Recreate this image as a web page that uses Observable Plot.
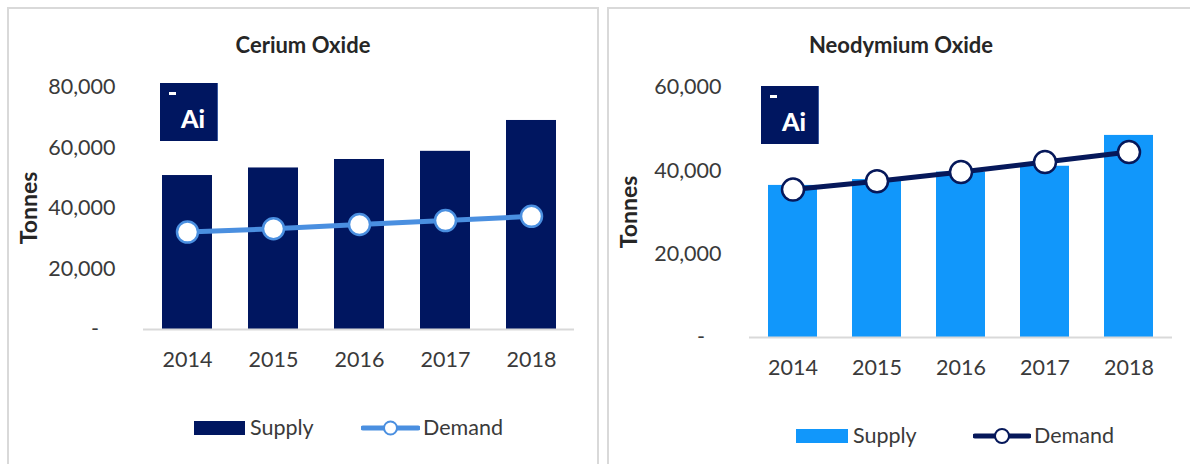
<!DOCTYPE html>
<html>
<head>
<meta charset="utf-8">
<script src="https://cdn.jsdelivr.net/npm/d3@7"></script>
<script src="https://cdn.jsdelivr.net/npm/@observablehq/plot@0.6"></script>
<style>
  html, body { margin: 0; padding: 0; background: #fff; }
  body { width: 1190px; height: 464px; overflow: hidden; position: relative; font-family: Lato, "Noto Sans", sans-serif; color: #3a3a3a; }
  .frame { position: absolute; border: 2px solid #d9d9d9; box-sizing: border-box; }
  .abs { position: absolute; }
  .title { position: absolute; font-weight: bold; font-size: 22px; color: #262626; transform: translate(-50%, -50%); white-space: nowrap; }
  .ylab { position: absolute; font-weight: bold; font-size: 23px; color: #262626; transform: translate(-50%, -50%) rotate(-90deg); white-space: nowrap; }
  .logo { position: absolute; width: 58px; height: 58px; background: #001660; border-right: 1px solid #3a5aa0; box-sizing: border-box; }
  .logo .dash { position: absolute; left: 9px; top: 9px; width: 7px; height: 3px; background: #fff; }
  .logo .ai { position: absolute; left: 21px; top: 23px; font-weight: 900; font-size: 25px; color: #fff; line-height: 1; }
  .leg { position: absolute; font-size: 21.5px; color: #3a3a3a; white-space: nowrap; line-height: 1; transform: translateY(-50%); }
  svg.plot { position: absolute; top: 0; }
</style>
</head>
<body>
<div class="frame" style="left:7px; top:7px; width:592px; height:470px;"></div>
<div class="frame" style="left:607px; top:7px; width:600px; height:470px;"></div>
<div id="root"></div>
<script>
const years = ["2014", "2015", "2016", "2017", "2018"];
const ceriumSupply = [50900, 53400, 56200, 58900, 69100];
const ceriumDemand = [32200, 33300, 34700, 36000, 37400];
const neoSupply = [36500, 37900, 39700, 41100, 48500];
const neoDemand = [35500, 37500, 39700, 42100, 44500];
const seriesNames = ["Supply", "Demand"];
const titles = ["Cerium Oxide", "Neodymium Oxide"];
const yAxisLabel = "Tonnes";

function fmt(d) { return d === 0 ? "-\u00a0\u00a0\u00a0" : d3.format(",")(d); }

function chart(opts) {
  const rows = years.map((y, i) => ({year: y, supply: opts.supply[i], demand: opts.demand[i]}));
  const svg = Plot.plot({
    width: opts.width,
    height: 464,
    marginLeft: opts.marginLeft,
    marginRight: opts.marginRight,
    marginTop: opts.marginTop,
    marginBottom: opts.marginBottom,
    style: {fontFamily: "Lato, 'Noto Sans', sans-serif", fontSize: "21.5px", color: "#3a3a3a", background: "transparent", overflow: "visible"},
    x: {domain: years, paddingInner: 0.42, paddingOuter: 0.21, label: null, tickSize: 0, tickPadding: 22},
    y: {domain: [0, opts.yMax], ticks: d3.range(0, opts.yMax + 1, 20000), tickFormat: fmt, label: null, tickSize: 0, tickPadding: 28},
    marks: [
      Plot.barY(rows, {x: "year", y: "supply", fill: opts.barColor}),
      Plot.ruleY([0], {stroke: "#d9d9d9", strokeWidth: 2}),
      Plot.lineY(rows, {x: "year", y: "demand", stroke: opts.lineColor, strokeWidth: 5}),
      Plot.dot(rows, {x: "year", y: "demand", r: opts.r, fill: "white", stroke: opts.lineColor, strokeWidth: 2.5})
    ]
  });
  svg.classList.add("plot");
  svg.style.left = opts.left + "px";
  return svg;
}

const root = document.getElementById("root");
root.appendChild(chart({left: 0, width: 600, marginLeft: 143, marginRight: 26, marginTop: 87, marginBottom: 135,
  yMax: 80000, supply: ceriumSupply, demand: ceriumDemand, barColor: "#001660", lineColor: "#4a8fe0", r: 10.5}));
root.appendChild(chart({left: 600, width: 590, marginLeft: 149, marginRight: 18, marginTop: 87, marginBottom: 127,
  yMax: 60000, supply: neoSupply, demand: neoDemand, barColor: "#1197fb", lineColor: "#06185a", r: 11}));

function addDiv(cls, style, html) {
  const d = document.createElement("div");
  d.className = cls;
  Object.assign(d.style, style);
  if (html != null) d.innerHTML = html;
  root.appendChild(d);
  return d;
}

// titles and y labels
addDiv("title", {left: "303px", top: "44px"}).textContent = titles[0];
addDiv("title", {left: "901px", top: "44px"}).textContent = titles[1];
addDiv("ylab", {left: "28px", top: "208px"}).textContent = yAxisLabel;
addDiv("ylab", {left: "628px", top: "212px"}).textContent = yAxisLabel;

// logos
[[160, 83], [761, 86]].forEach(([x, y]) => {
  addDiv("logo", {left: x + "px", top: y + "px"}, '<div class="dash"></div><div class="ai">Ai</div>');
});

// legends
function legend(cy, swX, swW, barColor, lineX, lineW, lineColor, r) {
  addDiv("abs", {left: swX + "px", top: (cy - 7) + "px", width: swW + "px", height: "14px", background: barColor});
  addDiv("leg", {left: (swX + swW + 5) + "px", top: cy + "px"}).textContent = seriesNames[0];
  const ns = "http://www.w3.org/2000/svg";
  const s = document.createElementNS(ns, "svg");
  s.setAttribute("width", lineW + 4); s.setAttribute("height", 24);
  s.style.position = "absolute"; s.style.left = (lineX - 2) + "px"; s.style.top = (cy - 12) + "px";
  const l = document.createElementNS(ns, "line");
  l.setAttribute("x1", 2); l.setAttribute("x2", lineW + 2); l.setAttribute("y1", 12); l.setAttribute("y2", 12);
  l.setAttribute("stroke", lineColor); l.setAttribute("stroke-width", 5); l.setAttribute("stroke-linecap", "round");
  s.appendChild(l);
  const c = document.createElementNS(ns, "circle");
  c.setAttribute("cx", lineW / 2 + 2); c.setAttribute("cy", 12); c.setAttribute("r", r);
  c.setAttribute("fill", "white"); c.setAttribute("stroke", lineColor); c.setAttribute("stroke-width", 2);
  s.appendChild(c);
  root.appendChild(s);
  addDiv("leg", {left: (lineX + lineW + 5) + "px", top: cy + "px"}).textContent = seriesNames[1];
}
legend(428, 194, 51, "#001660", 363, 55, "#4a8fe0", 6.5);
legend(436, 796, 52, "#1197fb", 975, 54, "#06185a", 7);
</script>
</body>
</html>
